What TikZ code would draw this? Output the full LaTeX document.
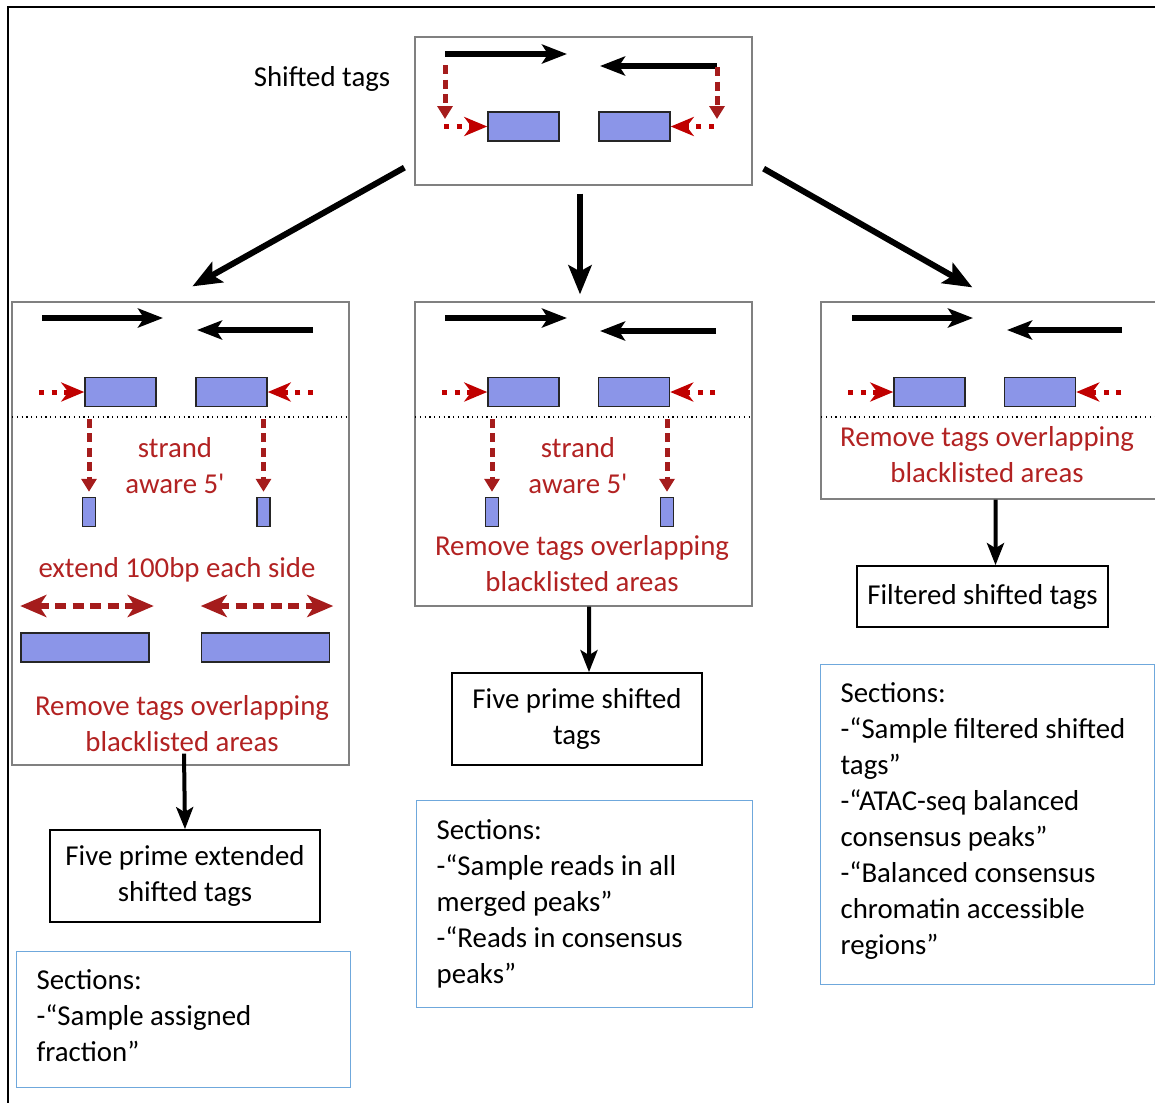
\documentclass[tikz,border=0pt]{standalone}
\usepackage{fontspec}
\setmainfont{Carlito}[Ligatures=TeXOff]
\usetikzlibrary{arrows.meta}

\definecolor{tagblue}{HTML}{8B95E8}
\definecolor{darkred}{HTML}{A51C1C}
\definecolor{brightred}{HTML}{C00000}
\definecolor{txtred}{HTML}{B22222}
\definecolor{secblue}{HTML}{6FA8DC}

\begin{document}
\begin{tikzpicture}[x = 0.2mm, y = -0.2mm,
    font=\fontsize{16.4}{20.5}\selectfont,
    tagbox/.style={draw=black!85, line width=0.3mm, fill=tagblue, minimum height=5.8mm, inner sep=0pt},
    panel/.style={draw=black!50, line width=0.25mm, inner sep=0pt},
    outbox/.style={draw=black, line width=0.35mm, align=center, inner sep=0pt},
    secbox/.style={draw=secblue, line width=0.25mm, align=flush left, anchor=north west, inner xsep=4mm, inner ysep=0pt},
    redtxt/.style={text=txtred, align=center},
    strand/.style={line width=1.1mm, -{Stealth[length=5mm, width=3.8mm, inset=1.2mm]}},
    flow/.style={line width=1.2mm, -{Stealth[length=5.8mm, width=4.6mm, inset=1.2mm]}},
    outflow/.style={line width=0.8mm, -{Stealth[length=4.4mm, width=3.4mm, inset=1mm]}},
    fivearr/.style={darkred, line width=1mm, dash pattern=on 1.8mm off 1.1mm, -{Triangle[length=2.6mm, width=3mm]}},
    shiftarr/.style={brightred, line width=1mm, dash pattern=on 1mm off 1.5mm, -{Stealth[length=4.6mm, width=3.8mm, inset=1.4mm]}},
    extarr/.style={darkred, line width=1.2mm, dash pattern=on 2.2mm off 1.3mm, {Stealth[length=5.2mm, width=4.4mm, inset=1.4mm]}-{Stealth[length=5.2mm, width=4.4mm, inset=1.4mm]}},
    sepline/.style={dotted, line width=0.25mm}
]

    \useasboundingbox (0,0) rectangle (1155,1102);
    \clip (0,0) rectangle (1155,1102);

    % Cornice
    \draw[line width=0.45mm] (8,1110) -- (8,7) -- (1160,7);

    % Shifted tags
    \node[panel, minimum width=67.4mm, minimum height=29.6mm] (top) at (583.5,111) {};
    \node (toplbl) at (322,79) {Shifted tags};
    \draw[strand] (445,54) -- (567,54);
    \draw[strand] (717,66) -- (600,66);
    \node[tagbox, minimum width=14.2mm] (t1) at (523.5,126.5) {};
    \node[tagbox, minimum width=14.2mm] (t2) at (634.5,126.5) {};
    \draw[fivearr] (445,65) -- (445,119);
    \draw[shiftarr] ([xshift=-8.6mm]t1.west) -- (t1.west);
    \draw[fivearr] (717,67) -- (717,119);
    \draw[shiftarr] ([xshift=8.6mm]t2.east) -- (t2.east);

    % Pannello sinistro
    \node[panel, minimum width=67.4mm, minimum height=92.6mm] (lp) at (180.5,533.5) {};
    \draw[strand] (42,318) -- (163,318);
    \draw[strand] (313,330) -- (197,330);
    \node[tagbox, minimum width=14.2mm] (l1) at (120.5,392) {};
    \node[tagbox, minimum width=14.2mm] (l2) at (231.5,392) {};
    \draw[shiftarr] ([xshift=-9mm]l1.west) -- (l1.west);
    \draw[shiftarr] ([xshift=9mm]l2.east) -- (l2.east);
    \draw[sepline] (12,417) -- (349,417);
    \node[tagbox, minimum width=2.6mm] (l3) at (89,512) {};
    \node[tagbox, minimum width=2.6mm] (l4) at (263.5,512) {};
    \draw[fivearr, shorten >=1mm] ([yshift=15.6mm]l3.north) -- (l3.north);
    \draw[fivearr, shorten >=1mm] ([yshift=15.6mm]l4.north) -- (l4.north);
    \node[redtxt] (lt1) at (175,466) {strand\\aware 5'};
    \node[redtxt] (lt2) at (177,570) {extend 100bp each side};
    \node[tagbox, minimum width=25.6mm] (l5) at (85,647.5) {};
    \node[tagbox, minimum width=25.6mm] (l6) at (265.5,647.5) {};
    \draw[extarr] ([yshift=8.3mm]l5.west) -- ([xshift=0.8mm, yshift=8.3mm]l5.east);
    \draw[extarr] ([yshift=8.3mm]l6.west) -- ([xshift=0.6mm, yshift=8.3mm]l6.east);
    \node[redtxt] (lt3) at (182,724) {Remove tags overlapping\\blacklisted areas};

    % Pannello centrale
    \node[panel, minimum width=67.4mm, minimum height=60.8mm] (mp) at (583.5,454) {};
    \draw[strand] (445,318) -- (567,318);
    \draw[strand] (716,331) -- (600,331);
    \node[tagbox, minimum width=14.2mm] (m1) at (523.5,392) {};
    \node[tagbox, minimum width=14.2mm] (m2) at (634,392) {};
    \draw[shiftarr] ([xshift=-9mm]m1.west) -- (m1.west);
    \draw[shiftarr] ([xshift=9mm]m2.east) -- (m2.east);
    \draw[sepline] (415,417) -- (752,417);
    \node[tagbox, minimum width=2.6mm] (m3) at (492,512) {};
    \node[tagbox, minimum width=2.6mm] (m4) at (667,512) {};
    \draw[fivearr, shorten >=1mm] ([yshift=15.6mm]m3.north) -- (m3.north);
    \draw[fivearr, shorten >=1mm] ([yshift=15.6mm]m4.north) -- (m4.north);
    \node[redtxt] (mt1) at (578,466) {strand\\aware 5'};
    \node[redtxt] (mt2) at (582,564) {Remove tags overlapping\\blacklisted areas};

    % Pannello destro
    \node[panel, minimum width=69.8mm, minimum height=39.4mm] (rp) at (995.5,400.5) {};
    \draw[strand] (852,318) -- (973,318);
    \draw[strand] (1122,330) -- (1007,330);
    \node[tagbox, minimum width=14.2mm] (r1) at (929.5,392) {};
    \node[tagbox, minimum width=14.2mm] (r2) at (1040,392) {};
    \draw[shiftarr] ([xshift=-9mm]r1.west) -- (r1.west);
    \draw[shiftarr] ([xshift=9mm]r2.east) -- (r2.east);
    \draw[sepline] (821,417) -- (1160,417);
    \node[redtxt] (rt1) at (987,455) {Remove tags overlapping\\blacklisted areas};

    % Frecce dal box in alto
    \draw[flow] ([xshift=-2mm, yshift=3.6mm]top.south west) -- ([xshift=36.2mm, yshift=3mm]lp.north west);
    \draw[flow, shorten <=1.6mm, shorten >=1.4mm] ([xshift=-0.7mm]top.south) -- ([xshift=-0.7mm]mp.north);
    \draw[flow] ([xshift=2.2mm, yshift=3.4mm]top.south east) -- ([xshift=30.4mm, yshift=2.8mm]rp.north west);

    % Risultati
    \node[outbox, minimum width=54mm, minimum height=18.4mm] (lo) at (185,876) {Five prime extended\\shifted tags};
    \node[outbox, minimum width=50mm, minimum height=18.4mm] (mo) at (577,719) {Five prime shifted\\tags};
    \node[outbox, minimum width=50.2mm, minimum height=12.2mm] (ro) at (982.5,596.5) {Filtered shifted tags};
    \draw[outflow] ([xshift=0.7mm, yshift=2.4mm]lp.south) -- (lo.north);
    \draw[outflow] ([xshift=1.1mm]mp.south) -- ([xshift=2.4mm]mo.north);
    \draw[outflow] (rp.south) -- ([xshift=2.6mm]ro.north);

    % Sezioni
    \node[secbox, minimum height=27.2mm, text width=58.8mm] (ls) at (16,951) {Sections:\\-“Sample assigned\\fraction”\vspace{1.6mm}};
    \node[secbox, minimum height=41.4mm, text width=59.2mm] (ms) at (416,800) {Sections:\\-“Sample reads in all\\merged peaks”\\-“Reads in consensus\\peaks”};
    \node[secbox, minimum height=64mm, text width=58.8mm] (rs) at (820,664) {Sections:\\-“Sample filtered shifted\\tags”\\-“ATAC-seq balanced\\consensus peaks”\\-“Balanced consensus\\chromatin accessible\\regions”\vspace{1.4mm}};

\end{tikzpicture}
\end{document}
